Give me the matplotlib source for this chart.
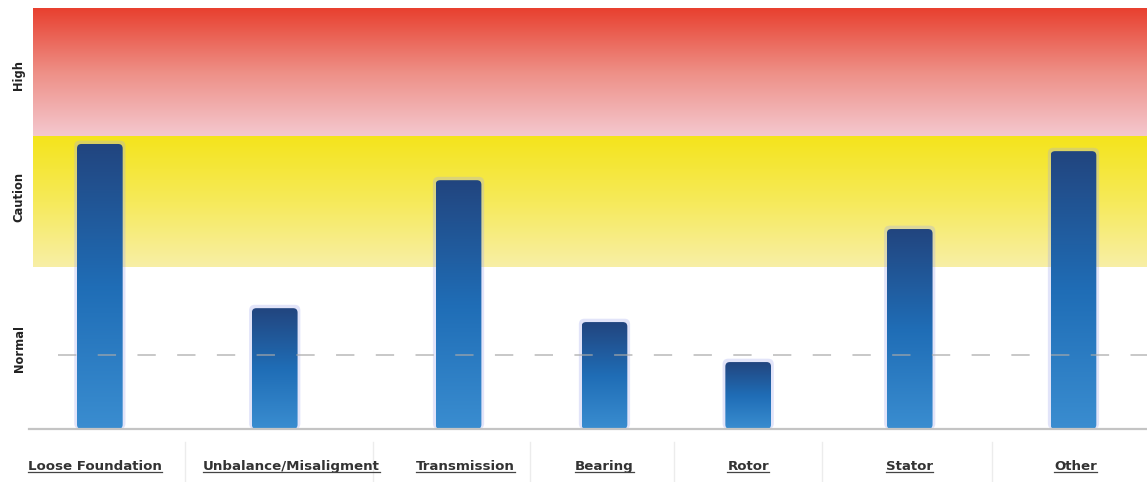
import numpy as np
import matplotlib
matplotlib.use('Agg')
import matplotlib.pyplot as plt
from matplotlib.colors import LinearSegmentedColormap
from matplotlib.patches import FancyBboxPatch
from matplotlib.lines import Line2D
import matplotlib.transforms as mtransforms

# data (percent of plot height)
categories = ['Loose Foundation', 'Unbalance/Misaligment', 'Transmission',
              'Bearing', 'Rotor', 'Stator', 'Other']
values = [67.7, 28.7, 59.1, 25.4, 15.9, 47.5, 66.0]
zone_names = ['Normal', 'Caution', 'High']
zone_limits = [0, 38.5, 69.6, 100]
reference_level = 17.6

# layout (x in slot units, axes spans 0..10)
bar_x = [0.60, 2.17, 3.82, 5.13, 6.42, 7.87, 9.34]
label_x = [0.56, 2.32, 3.88, 5.13, 6.42, 7.87, 9.36]
sep_x = [1.36, 3.05, 4.46, 5.75, 7.08, 8.61]
zone_label_y = [348, 197, 75]  # px from top
bar_w = 0.41

W, H = 1147, 482
fig = plt.figure(figsize=(W / 100, H / 100), dpi=100)
ax_l, ax_r, ax_t, ax_b = 33, 1147, 8, 429
ax = fig.add_axes([ax_l / W, (H - ax_b) / H, (ax_r - ax_l) / W, (ax_b - ax_t) / H])
xmax = 10.0
ax.set_xlim(0, xmax)
ax.set_ylim(0, 100)
ax.axis('off')

px_x = (ax_r - ax_l) / xmax
px_y = (ax_b - ax_t) / 100.0


def vgrad(colors, n=256):
    cmap = LinearSegmentedColormap.from_list('g', colors)
    g = cmap(np.linspace(0, 1, n))[:, :3]
    return g.reshape(n, 1, 3)


# zones (origin lower -> first colour at bottom)
ax.imshow(vgrad(['#f8efa6', '#f6ea5a', '#f4e41c']), extent=(0, xmax, zone_limits[1], zone_limits[2]),
          origin='lower', aspect='auto', zorder=0)
ax.imshow(vgrad(['#f4c8cf', '#ee8f86', '#e8402f']), extent=(0, xmax, zone_limits[2], zone_limits[3]),
          origin='lower', aspect='auto', zorder=0)

# bars with gradient and rounded tops
bar_grad = vgrad(['#3a8dd0', '#1f6db6', '#22457f'])
aspect = px_x / px_y
for x, v in zip(bar_x, values):
    glow = FancyBboxPatch((x - bar_w / 2 - 0.025, 0), bar_w + 0.05, v + 0.8,
                          boxstyle='round,pad=0,rounding_size=0.05', mutation_aspect=aspect,
                          facecolor='#9fa8ee', edgecolor='none', alpha=0.3, zorder=2)
    ax.add_patch(glow)
    patch = FancyBboxPatch((x - bar_w / 2, 0), bar_w, v,
                           boxstyle='round,pad=0,rounding_size=0.04', mutation_aspect=aspect,
                           facecolor='none', edgecolor='none', zorder=3)
    ax.add_patch(patch)
    im = ax.imshow(bar_grad, extent=(x - bar_w / 2, x + bar_w / 2, 0, v), origin='lower',
                   aspect='auto', zorder=3)
    im.set_clip_path(patch)

# dashed reference line and baseline
ax.plot([0.22, xmax], [reference_level] * 2, color='#a8a8a8', lw=1.1,
        linestyle=(0, (12, 14)), alpha=0.8, zorder=4)
ax.plot([-0.04, xmax], [0, 0], color='#c4c4c4', lw=1.6, clip_on=False, zorder=5)

# separators under the axis
trans = mtransforms.blended_transform_factory(ax.transData, ax.transAxes)
for s in sep_x:
    ax.plot([s, s], [-0.03, -0.13], color='#ececec', lw=1, transform=trans, clip_on=False)

# category labels with underline
label_y = -(470 - ax_b) / (ax_b - ax_t)
texts = []
for lx, name in zip(label_x, categories):
    t = ax.text(lx, label_y, name, transform=trans, ha='center', va='baseline',
                fontsize=9.6, fontweight='bold', color='#333333', family='DejaVu Sans')
    texts.append(t)

# zone labels
for name, yy in zip(zone_names, zone_label_y):
    fig.text(19 / W, (H - yy) / H, name, rotation=90, ha='center', va='center',
             fontsize=8.3, fontweight='bold', color='#222222', family='DejaVu Sans')

fig.canvas.draw()
renderer = fig.canvas.get_renderer()
for t in texts:
    bb = t.get_window_extent(renderer)
    base = ax.transData.transform((0, 0))[1] - (470 - ax_b)
    fig.add_artist(Line2D([bb.x0 / W, bb.x1 / W], [(base - 2) / H] * 2,
                          color='#444444', lw=0.9, transform=fig.transFigure))

fig.savefig('out.png', dpi=100)
